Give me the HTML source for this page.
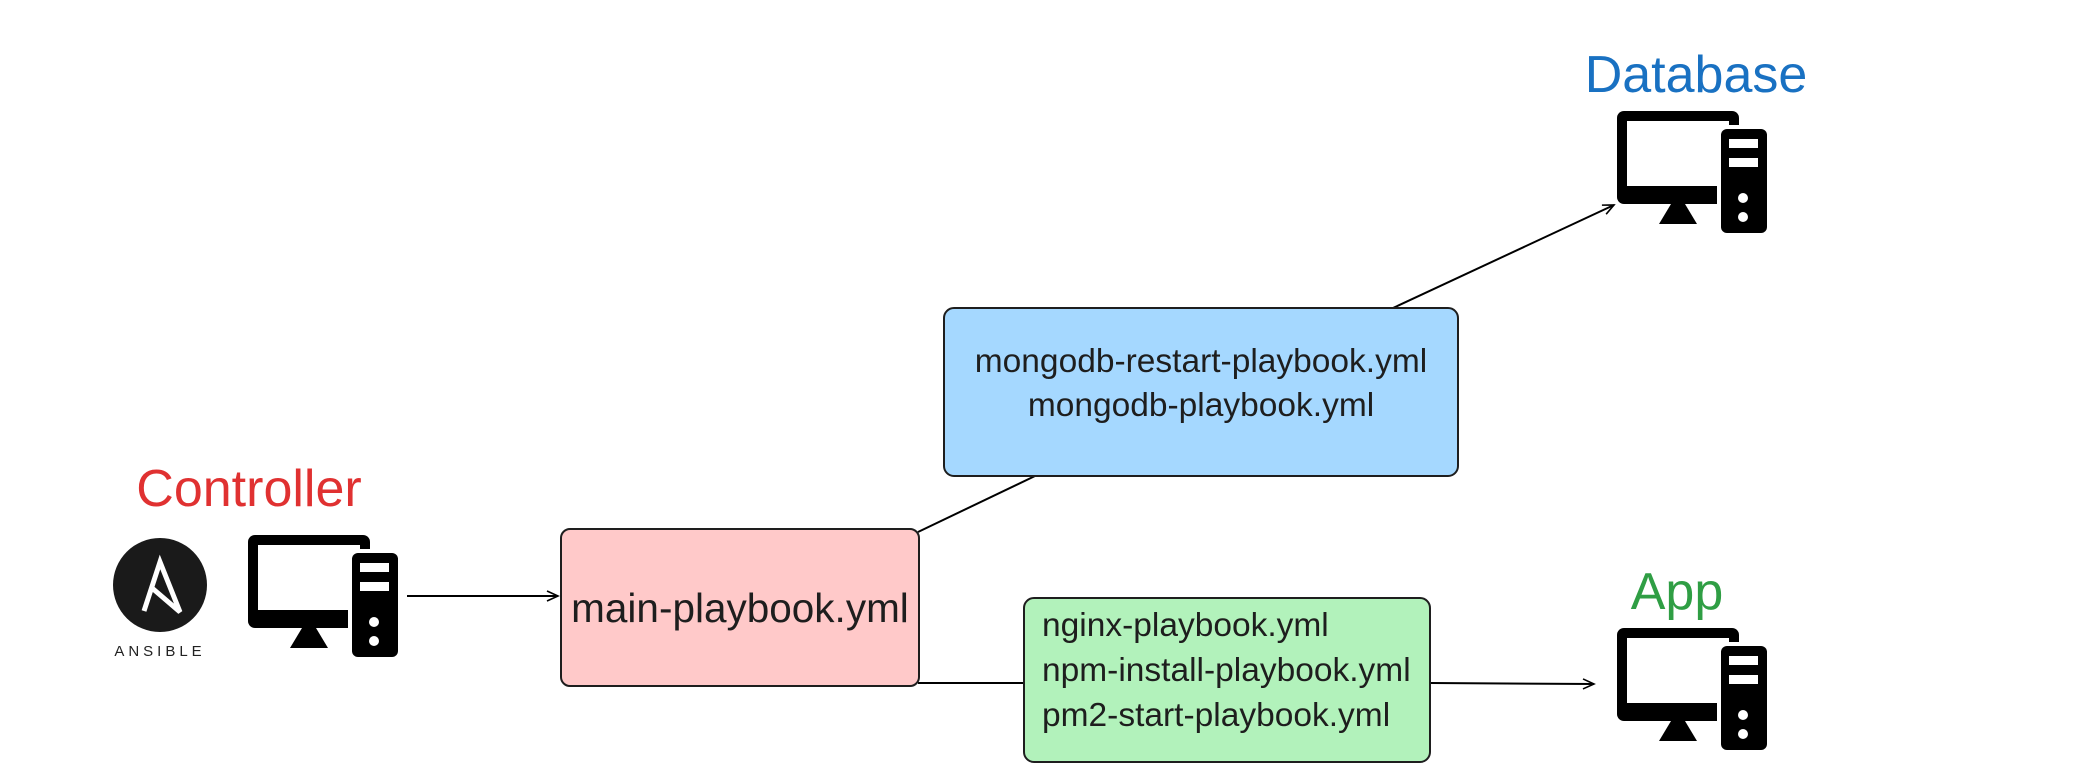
<!DOCTYPE html>
<html><head><meta charset="utf-8"><style>
html,body{margin:0;padding:0;background:#fff;}
body{width:2084px;height:781px;overflow:hidden;position:relative;font-family:"Liberation Sans",Arial,sans-serif;}
</style></head><body>
<svg width="2084" height="781" viewBox="0 0 2084 781" xmlns="http://www.w3.org/2000/svg" style="position:absolute;left:0;top:0">
<defs>
<g id="pc">
  <rect x="0" y="0" width="122" height="93" rx="7" fill="#000"/>
  <rect x="10" y="10" width="102" height="65" fill="#fff"/>
  <polygon points="42,113 80,113 68,93 54,93" fill="#000"/>
  <rect x="100" y="14" width="54" height="112" rx="8" fill="#fff"/>
  <rect x="104" y="18" width="46" height="104" rx="6" fill="#000"/>
  <rect x="112" y="28" width="29" height="9" fill="#fff"/>
  <rect x="112" y="47" width="29" height="9" fill="#fff"/>
  <circle cx="126" cy="87" r="5" fill="#fff"/>
  <circle cx="126" cy="106" r="5" fill="#fff"/>
</g>
<marker id="ar" markerWidth="14" markerHeight="12" refX="12" refY="6" orient="auto" markerUnits="userSpaceOnUse">
  <path d="M1,1 L12,6 L1,11" fill="none" stroke="#000" stroke-width="1.6"/>
</marker>
</defs>

<line x1="407" y1="596" x2="558" y2="596" stroke="#000" stroke-width="2" marker-end="url(#ar)"/>
<line x1="918" y1="532" x2="1035" y2="476" stroke="#000" stroke-width="2"/>
<line x1="1393" y1="308" x2="1614" y2="205" stroke="#000" stroke-width="2" marker-end="url(#ar)"/>
<line x1="918" y1="683" x2="1025" y2="683" stroke="#000" stroke-width="2"/>
<line x1="1431" y1="683" x2="1594" y2="684" stroke="#000" stroke-width="2" marker-end="url(#ar)"/>

<rect x="561" y="529" width="358" height="157" rx="9" fill="#ffc9c9" stroke="#1e1e1e" stroke-width="2"/>
<rect x="944" y="308" width="514" height="168" rx="10" fill="#a5d8ff" stroke="#1e1e1e" stroke-width="2"/>
<rect x="1024" y="598" width="406" height="164" rx="10" fill="#b2f2bb" stroke="#1e1e1e" stroke-width="2"/>

<g font-family="Liberation Sans, Arial, sans-serif" fill="#1e1e1e">
<text x="740" y="622" font-size="40.5" text-anchor="middle">main-playbook.yml</text>
<text x="1201" y="372" font-size="33.5" text-anchor="middle">mongodb-restart-playbook.yml</text>
<text x="1201" y="416" font-size="33.5" text-anchor="middle">mongodb-playbook.yml</text>
<text x="1042" y="636" font-size="33.5">nginx-playbook.yml</text>
<text x="1042" y="681" font-size="33.5">npm-install-playbook.yml</text>
<text x="1042" y="726" font-size="33.5">pm2-start-playbook.yml</text>
</g>

<text x="249" y="506" font-size="52" fill="#e03131" text-anchor="middle" font-family="Liberation Sans, Arial, sans-serif">Controller</text>
<text x="1696" y="92" font-size="52" fill="#1971c2" text-anchor="middle" font-family="Liberation Sans, Arial, sans-serif">Database</text>
<text x="1677" y="609" font-size="52" fill="#2f9e44" text-anchor="middle" font-family="Liberation Sans, Arial, sans-serif">App</text>

<circle cx="160" cy="585" r="47" fill="#1a1a1a"/>
<path d="M144,611 L160,562 L180,612 L152,588" fill="none" stroke="#fff" stroke-width="5" stroke-linejoin="miter"/>
<text x="160" y="656" font-size="15" fill="#222" text-anchor="middle" letter-spacing="4" font-family="Liberation Sans, Arial, sans-serif">ANSIBLE</text>

<use href="#pc" x="248" y="535"/>
<use href="#pc" x="1617" y="111"/>
<use href="#pc" x="1617" y="628"/>
</svg>
</body></html>
